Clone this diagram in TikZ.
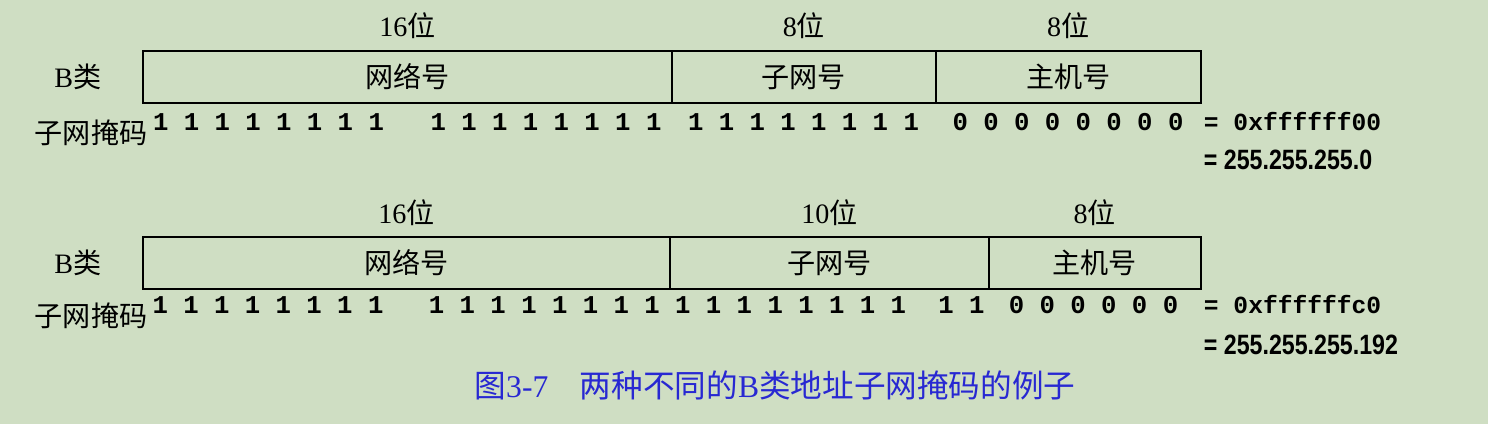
\documentclass[tikz,border=0pt]{standalone}
\usepackage{fontspec}
\setmainfont{Liberation Serif}
\newfontfamily\cjk{Noto Sans CJK SC}
\newfontfamily\bitfont{Liberation Mono}
\newfontfamily\narrowfont[FakeStretch=0.83]{Liberation Sans}
\usetikzlibrary{positioning}
\definecolor{bggreen}{RGB}{207,222,195}
\definecolor{capblue}{RGB}{40,40,210}

\begin{document}
\begin{tikzpicture}
		[x=0.02cm, y=-0.02cm, line width=1.1pt, node distance={1mm},
		field/.style = {draw, rectangle, minimum height=1.04cm, inner sep=0pt, outer sep=0pt, font=\fontsize{16pt}{16pt}\cjk},
		lab/.style = {font=\fontsize{16pt}{16pt}\selectfont},
		bits/.style = {inner sep=0pt, font=\fontsize{14.6pt}{14.6pt}\bitfont\bfseries},
		hexval/.style = {anchor=west, inner sep=0pt, font=\fontsize{14pt}{14pt}\bitfont\bfseries},
		dotval/.style = {anchor=west, inner sep=0pt, font=\fontsize{15.9pt}{15.9pt}\narrowfont\bfseries},
		caption/.style = {text=capblue, font=\fontsize{18pt}{18pt}\selectfont}]
	\fill[bggreen] (0,0) rectangle (1488,424);
	\useasboundingbox (0,0) rectangle (1488,424);
	% first example: 16 + 8 + 8
	\node[field, minimum width=10.58cm, anchor=west] (net1) at (143,77) {网络号};
	\node[field, minimum width=5.28cm] (sub1) [right=0pt of net1] {子网号};
	\node[field, minimum width=5.3cm] (host1) [right=0pt of sub1] {主机号};
	\node[lab] (len1) [above=1mm of net1] {16{\cjk 位}};
	\node[lab] (len2) [above=1mm of sub1] {8{\cjk 位}};
	\node[lab] (len3) [above=1mm of host1] {8{\cjk 位}};
	\node[lab] (cls1) [left=7mm of net1] {B{\cjk 类}};
	\node[lab] (mask1) at (91,133) {\cjk 子网掩码};
	\node[bits] (b1) at (268.5,122) {1 1 1 1 1 1 1 1};
	\node[bits] (b2) at (546,122) {1 1 1 1 1 1 1 1};
	\node[bits] (b3) at (803.5,122) {1 1 1 1 1 1 1 1};
	\node[bits] (b4) at (1068,122) {0 0 0 0 0 0 0 0};
	\node[hexval] (hex1) at (1203,122) {= 0xffffff00};
	\node[dotval] (dot1) at (1203,160) {= 255.255.255.0};
	% second example: 16 + 10 + 8
	\node[field, minimum width=10.54cm, anchor=west] (net2) at (143,263) {网络号};
	\node[field, minimum width=6.38cm] (sub2) [right=0pt of net2] {子网号};
	\node[field, minimum width=4.24cm] (host2) [right=0pt of sub2] {主机号};
	\node[lab] (len4) [above=1mm of net2] {16{\cjk 位}};
	\node[lab] (len5) [above=1mm of sub2] {10{\cjk 位}};
	\node[lab] (len6) [above=1mm of host2] {8{\cjk 位}};
	\node[lab] (cls2) [left=7mm of net2] {B{\cjk 类}};
	\node[lab] (mask2) at (91,316) {\cjk 子网掩码};
	\node[bits] (b5) at (268,305) {1 1 1 1 1 1 1 1};
	\node[bits] (b6) at (667.5,305) {1 1 1 1 1 1 1 1 1 1 1 1 1 1 1 1};
	\node[bits] (b7) at (961.5,305) {1 1};
	\node[bits] (b8) at (1093.5,305) {0 0 0 0 0 0};
	\node[hexval] (hex2) at (1203,305) {= 0xffffffc0};
	\node[dotval] (dot2) at (1203,345) {= 255.255.255.192};
	\node[caption] (cap) at (775,385) {{\cjk 图}3-7\quad{\cjk 两种不同的}B{\cjk 类地址子网掩码的例子}};
	\end{tikzpicture}
\end{document}
